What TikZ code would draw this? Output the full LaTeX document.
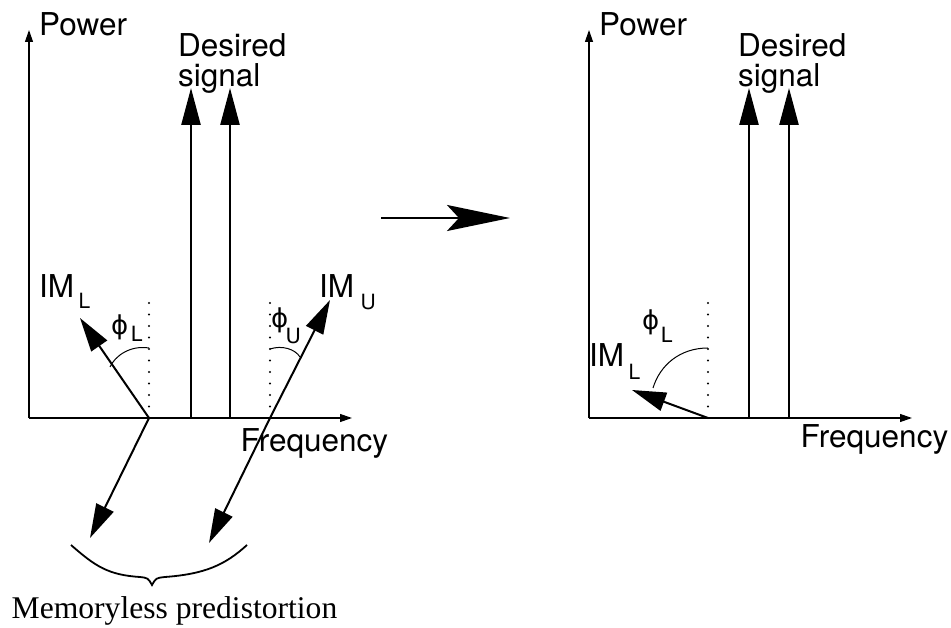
\documentclass[tikz,border=0pt]{standalone}
\usepackage{fontspec}
\setmainfont{TeX Gyre Heros}
\newfontfamily\serifont{Liberation Serif}
\newfontfamily\phifont{DejaVu Sans}
\usetikzlibrary{arrows.meta}
\newcommand\bigfnt{\fontsize{31.5}{32}\selectfont}
\newcommand\subfnt{\fontsize{21}{24}\selectfont}
\newcommand\phifnt{\phifont\fontsize{26}{30}\selectfont}
% subscript placed at absolute offset from the label origin
\newcommand\subat[3]{\rlap{\hspace{#1pt}\raisebox{-#2pt}{\subfnt #3}}}
\begin{document}
\begin{tikzpicture}[x=1pt,y=-1pt,
  axis/.style={line width=1.2pt,-{Triangle[length=12pt,width=8pt]}},
  sig/.style={line width=2.5pt,-{Triangle[length=37pt,width=19pt]}},
  imarrow/.style={line width=2pt,-{Triangle[length=34pt,width=19pt]}},
  dotline/.style={line width=2.2pt,dash pattern=on 0pt off 11.5pt,line cap=round},
  angarc/.style={line width=1pt},
  lbl/.style={inner sep=0pt,anchor=base west,font=\bigfnt},
  philbl/.style={inner sep=0pt,anchor=base west,font=\phifnt}]
\useasboundingbox (0,0) rectangle (951,628);
% ---------- left panel ----------
\coordinate (o1) at (29,418);
\coordinate (y1) at (29,30);
\coordinate (x1) at (352,418);
\draw[axis] (o1) -- (y1);
\draw[axis] (o1) -- (x1);
\coordinate (s1b) at (191,418); \coordinate (s1t) at (191,88);
\coordinate (s2b) at (230,418); \coordinate (s2t) at (230,88);
\draw[sig] (s1b) -- (s1t);
\draw[sig] (s2b) -- (s2t);
\coordinate (pl) at (149,418); \coordinate (plt) at (80,318); \coordinate (pld) at (149,303);
\coordinate (pu) at (270,418); \coordinate (put) at (330,300); \coordinate (pud) at (270,303);
\draw[dotline] (pl) -- (pld);
\draw[dotline] (pu) -- (pud);
\draw[imarrow] (pl) -- (plt);
\draw[imarrow] (pu) -- (put);
\draw[angarc] (149,348) .. controls (130,345) and (115,356) .. (110,367);
\draw[angarc] (270,349) .. controls (282,345) and (295,349) .. (300,357);
\coordinate (d1) at (90,538);
\coordinate (d2) at (209,543);
\draw[imarrow] (pl) -- (d1);
\draw[imarrow] (pu) -- (d2);
\draw[line width=1.8pt] (71,545) .. controls (95,566) and (108,575) .. (140,577)
  .. controls (148,578) .. (152,585)
  .. controls (156,578) .. (165,577)
  .. controls (205,574) and (225,565) .. (247,545);
\node[lbl] (power1) at (39,36) {Power};
\node[lbl] (des1a) at (178,57) {Desired};
\node[lbl] (des1b) at (178,87) {signal};
\node[lbl] (freq1) at (240.5,451) {Frequency};
\node[lbl] (iml1) at (39,298) {\subat{39.5}{11}{L}IM};
\node[lbl] (imu1) at (319,298) {\subat{41.4}{12}{U}IM};
\node[philbl] (phil1) at (111,335) {\subat{19.5}{7}{L}ϕ};
\node[philbl] (phiu1) at (271,328) {\subat{14.4}{16}{U}ϕ};
\node[inner sep=0pt,anchor=base west,font={\serifont\fontsize{31.6}{36}\selectfont}] (memo) at (11.5,618) {Memoryless predistortion};
% ---------- middle arrow ----------
\coordinate (ma) at (381,218);
\coordinate (mb) at (510,218);
\draw[line width=2.5pt,-{Stealth[length=63pt,width=26pt,inset=12pt]}] (ma) -- (mb);
% ---------- right panel ----------
\coordinate (o2) at (589,418);
\coordinate (y2) at (589,30);
\coordinate (x2) at (912,418);
\draw[axis] (o2) -- (y2);
\draw[axis] (o2) -- (x2);
\coordinate (r1b) at (749,418); \coordinate (r1t) at (749,88);
\coordinate (r2b) at (789,418); \coordinate (r2t) at (789,88);
\draw[sig] (r1b) -- (r1t);
\draw[sig] (r2b) -- (r2t);
\coordinate (ql) at (708,418); \coordinate (qlt) at (632,390); \coordinate (qld) at (708,303);
\draw[dotline] (ql) -- (qld);
\draw[imarrow] (ql) -- (qlt);
\draw[angarc] (708,348) .. controls (680,348) and (660,365) .. (653,388);
\node[lbl] (power2) at (599,36) {Power};
\node[lbl] (des2a) at (738,57) {Desired};
\node[lbl] (des2b) at (738,87) {signal};
\node[lbl] (freq2) at (800.5,447) {Frequency};
\node[lbl] (iml2) at (589,367) {\subat{39.5}{13}{L}IM};
\node[philbl] (phil2) at (642,330) {\subat{18.5}{13}{L}ϕ};
\end{tikzpicture}
\end{document}
